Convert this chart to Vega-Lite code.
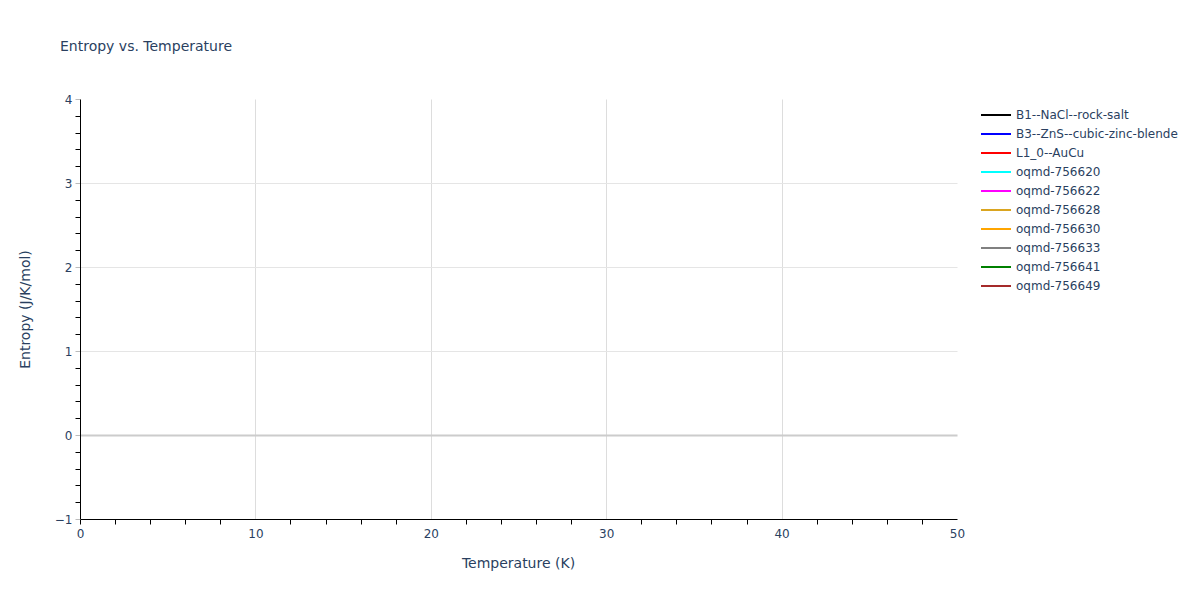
{
  "$schema": "https://vega.github.io/schema/vega-lite/v6.json",
  "autosize": {"type": "none"},
  "padding": {"left": 80, "top": 99, "right": 243, "bottom": 81},
  "width": 877,
  "height": 420,
  "background": "white",
  "title": {
    "text": "Entropy vs. Temperature",
    "anchor": "start",
    "frame": "group",
    "dx": -20,
    "offset": 39,
    "font": "DejaVu Sans",
    "fontSize": 14,
    "fontWeight": "normal",
    "color": "#2a3f5f"
  },
  "config": {
    "view": {"stroke": null},
    "font": "DejaVu Sans"
  },
  "data": {
    "values": [
      {"series": "B1--NaCl--rock-salt", "temperature": null, "entropy": null},
      {"series": "B3--ZnS--cubic-zinc-blende", "temperature": null, "entropy": null},
      {"series": "L1_0--AuCu", "temperature": null, "entropy": null},
      {"series": "oqmd-756620", "temperature": null, "entropy": null},
      {"series": "oqmd-756622", "temperature": null, "entropy": null},
      {"series": "oqmd-756628", "temperature": null, "entropy": null},
      {"series": "oqmd-756630", "temperature": null, "entropy": null},
      {"series": "oqmd-756633", "temperature": null, "entropy": null},
      {"series": "oqmd-756641", "temperature": null, "entropy": null},
      {"series": "oqmd-756649", "temperature": null, "entropy": null}
    ]
  },
  "mark": {"type": "line", "strokeWidth": 2},
  "encoding": {
    "x": {
      "field": "temperature",
      "type": "quantitative",
      "scale": {"domain": [0, 50], "nice": false, "zero": false},
      "axis": {
        "title": "Temperature (K)",
        "titleFont": "DejaVu Sans",
        "titleFontSize": 14,
        "titleFontWeight": "normal",
        "titleColor": "#2a3f5f",
        "titleX": 438,
        "titleY": 44,
        "titleBaseline": "middle",
        "titleAlign": "center",
        "values": [0,2,4,6,8,10,12,14,16,18,20,22,24,26,28,30,32,34,36,38,40,42,44,46,48,50],
        "labelExpr": "datum.value % 10 === 0 ? format(datum.value, 'd') : ''",
        "labelFont": "DejaVu Sans",
        "labelFontSize": 12,
        "labelColor": "#2a3f5f",
        "labelPadding": 4,
        "labelFlush": false,
        "labelOverlap": false,
        "domainColor": "#000000",
        "domainWidth": 1,
        "tickSize": 5,
        "tickColor": "#000000",
        "tickOpacity": {"condition": {"test": "datum.value % 10 === 0 && datum.value > 0", "value": 0}, "value": 1},
        "grid": true,
        "gridColor": "#dddddd",
        "gridWidth": 1,
        "gridOpacity": {"condition": {"test": "datum.value % 10 === 0 && datum.value > 0 && datum.value < 50", "value": 1}, "value": 0}
      }
    },
    "y": {
      "field": "entropy",
      "type": "quantitative",
      "scale": {"domain": [-1, 4], "nice": false, "zero": false},
      "axis": {
        "title": "Entropy (J/K/mol)",
        "titleFont": "DejaVu Sans",
        "titleFontSize": 14,
        "titleFontWeight": "normal",
        "titleColor": "#2a3f5f",
        "titleAngle": -90,
        "titleX": -55,
        "titleY": 210,
        "titleBaseline": "middle",
        "titleAlign": "center",
        "values": [-1,-0.8,-0.6,-0.4,-0.2,0,0.2,0.4,0.6,0.8,1,1.2,1.4,1.6,1.8,2,2.2,2.4,2.6,2.8,3,3.2,3.4,3.6,3.8,4],
        "labelExpr": "abs(datum.value - round(datum.value)) < 0.001 ? format(round(datum.value), 'd') : ''",
        "labelFont": "DejaVu Sans",
        "labelFontSize": 12,
        "labelColor": "#2a3f5f",
        "labelPadding": 3,
        "labelFlush": false,
        "labelOverlap": false,
        "domainColor": "#000000",
        "domainWidth": 1,
        "tickSize": 5,
        "tickColor": {"condition": {"test": "abs(datum.value - round(datum.value)) < 0.001", "value": "#bbbbbb"}, "value": "#000000"},
        "grid": true,
        "gridColor": {"condition": {"test": "abs(datum.value) < 0.001", "value": "#cccccc"}, "value": "#e5e5e5"},
        "gridWidth": {"condition": {"test": "abs(datum.value) < 0.001", "value": 2}, "value": 1},
        "gridOpacity": {"condition": {"test": "abs(datum.value - round(datum.value)) < 0.001 && datum.value > -0.5 && datum.value < 3.5", "value": 1}, "value": 0}
      }
    },
    "color": {
      "field": "series",
      "type": "nominal",
      "scale": {
        "domain": ["B1--NaCl--rock-salt", "B3--ZnS--cubic-zinc-blende", "L1_0--AuCu", "oqmd-756620", "oqmd-756622", "oqmd-756628", "oqmd-756630", "oqmd-756633", "oqmd-756641", "oqmd-756649"],
        "range": ["#000000", "#0000ff", "#ff0000", "#00ffff", "#ff00ff", "#daa520", "#ffa500", "#808080", "#008000", "#a52a2a"]
      },
      "legend": {
        "title": null,
        "orient": "none",
        "legendX": 907,
        "legendY": 7,
        "symbolType": "M-1.875,0H1.875",
        "symbolSize": 256,
        "symbolStrokeWidth": 2,
        "labelFont": "DejaVu Sans",
        "labelFontSize": 12,
        "labelColor": "#2a3f5f",
        "labelOffset": 11,
        "rowPadding": 4,
        "labelLimit": 300
      }
    }
  }
}
